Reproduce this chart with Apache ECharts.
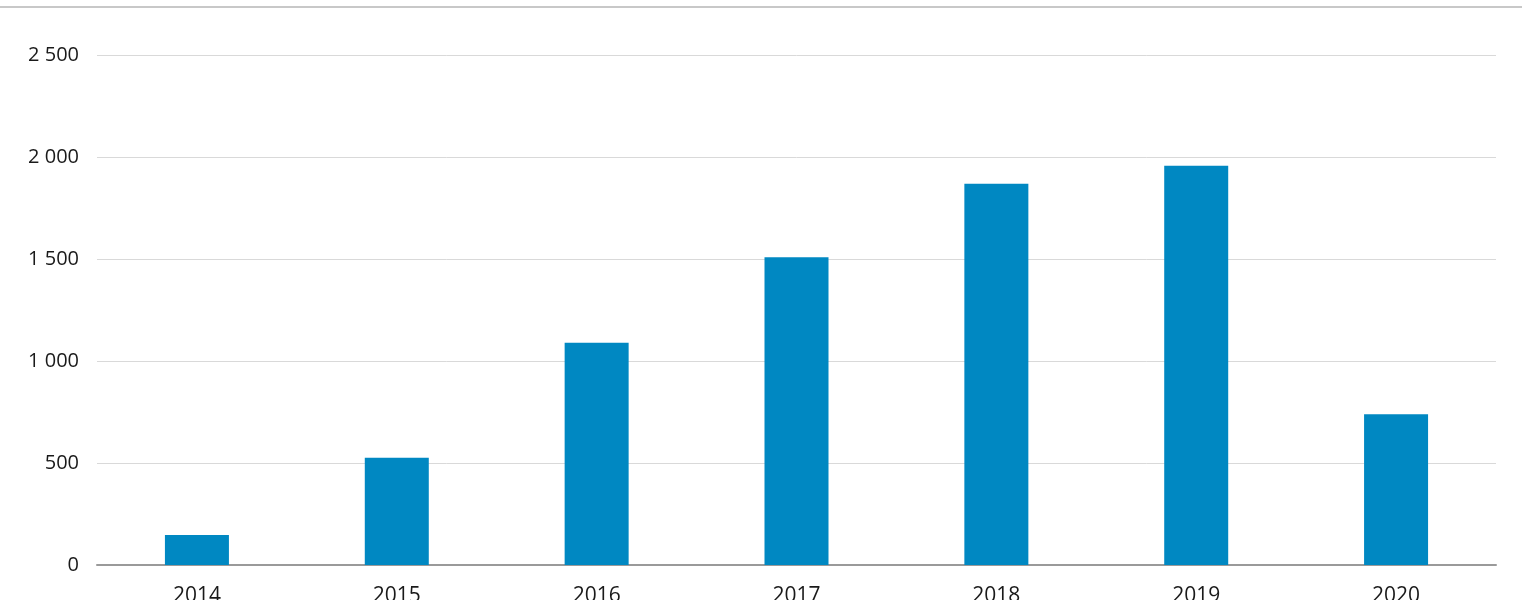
<!DOCTYPE html>
<html>
<head>
<meta charset="utf-8">
<script src="https://cdn.jsdelivr.net/npm/echarts@6/dist/echarts.min.js"></script>
<style>
html,body{margin:0;padding:0;background:#fff;}
#chart{width:1522px;height:600px;}
</style>
</head>
<body>
<div id="chart"></div>
<script>
const categories = ['2014','2015','2016','2017','2018','2019','2020'];
const values = [147, 526, 1090, 1508, 1869, 1957, 739];
const yTicks = [0, 500, 1000, 1500, 2000, 2500];

const chart = echarts.init(document.getElementById('chart'), null, {renderer:'canvas'});
chart.setOption({
  animation: false,
  backgroundColor: '#ffffff',
  textStyle: { fontFamily: 'Open Sans' },
  graphic: [{
    type: 'line',
    shape: { x1: 0, y1: 7, x2: 1522, y2: 7 },
    style: { stroke: '#c8c8c8', lineWidth: 2 }
  }],
  grid: { left: 97, right: 26, top: 55, bottom: 35, containLabel: false, outerBoundsMode: 'none' },
  xAxis: {
    type: 'category',
    data: categories,
    axisLine: { show: true, lineStyle: { color: '#9a9a9a', width: 2 } },
    axisTick: { show: false },
    axisLabel: { color: '#1a1a1a', fontSize: 21, margin: 21, fontFamily: 'Open Sans' }
  },
  yAxis: {
    type: 'value',
    min: yTicks[0],
    max: yTicks[yTicks.length - 1],
    interval: 500,
    axisLine: { show: false },
    axisTick: { show: false },
    splitLine: { lineStyle: { color: '#d9d9d9', width: 1 } },
    axisLabel: {
      color: '#1a1a1a', fontSize: 20, margin: 18, fontFamily: 'Open Sans',
      formatter: v => String(v).replace(/\B(?=(\d{3})+(?!\d))/g, ' ')
    }
  },
  series: [{
    type: 'bar',
    data: values,
    barWidth: 64,
    itemStyle: { color: '#0088c2' }
  }]
});
</script>
</body>
</html>
